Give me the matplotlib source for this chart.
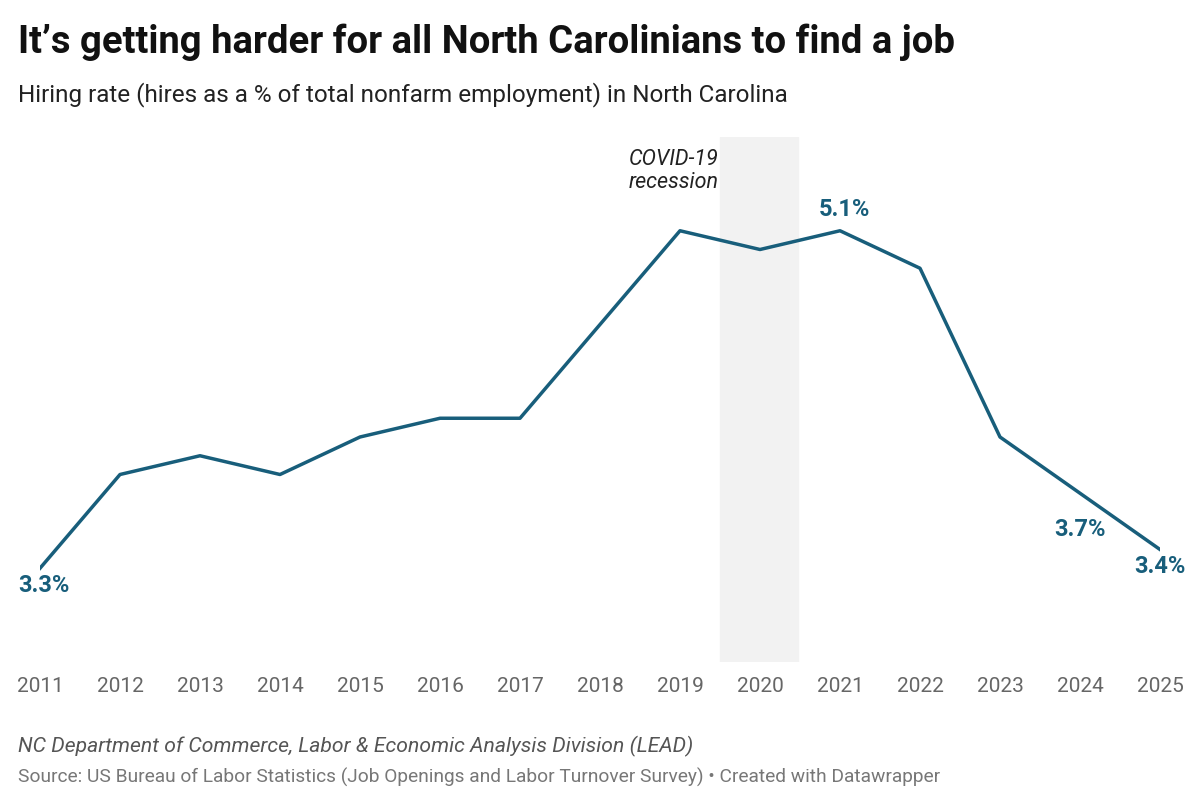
import matplotlib
matplotlib.use("Agg")
import matplotlib.pyplot as plt

years = list(range(2011, 2026))
rates = [3.3, 3.8, 3.9, 3.8, 4.0, 4.1, 4.1, 4.6, 5.1, 5.0, 5.1, 4.9, 4.0, 3.7, 3.4]
labels = {2011: "3.3%", 2021: "5.1%", 2024: "3.7%", 2025: "3.4%"}

plt.rcParams['font.family'] = ['Roboto', 'DejaVu Sans']
fig = plt.figure(figsize=(12, 8.07), dpi=100)
ax = fig.add_axes([40/1200, 145/807, 1120/1200, 525/807])
col = "#185e7b"
ax.axvspan(2019.5, 2020.47, color="#f2f2f2", zorder=0)
ax.plot(years, rates, color=col, lw=2.5, zorder=2)
ax.set_xlim(2011, 2025)
ax.set_ylim(2.8, 5.6)
for s in ax.spines.values():
    s.set_visible(False)
ax.set_yticks([])
ax.set_xticks(years)
ax.set_xticklabels([str(y) for y in years], fontsize=15, color="#666666")
ax.tick_params(axis='x', length=0, pad=11)
off = {2011: (0.05, -0.03, 'center', 'top'), 2021: (0.05, 0.05, 'center', 'bottom'),
       2024: (0.0, -0.13, 'center', 'top'), 2025: (0, -0.03, 'center', 'top')}
for y, t in labels.items():
    dx, dy, ha, va = off[y]
    v = rates[years.index(y)]
    ax.text(y + dx, v + dy, t, color=col, fontsize=17, fontweight='bold', ha=ha, va=va, clip_on=False)
ax.text(2019.48, 5.42, "COVID-19\nrecession", ha='right', va='center', fontsize=15.5,
        style='italic', color="#222222", linespacing=1.1)

fig.text(18/1200, 1-42/807, "It’s getting harder for all North Carolinians to find a job",
         fontsize=27.5, fontweight='bold', va='center', color="#111111")
fig.text(18/1200, 1-95/807, "Hiring rate (hires as a % of total nonfarm employment) in North Carolina",
         fontsize=17.5, va='center', color="#222222")
fig.text(18/1200, 1-746/807, "NC Department of Commerce, Labor & Economic Analysis Division (LEAD)",
         fontsize=15.2, style='italic', va='center', color="#555555")
fig.text(18/1200, 1-777/807, "Source: US Bureau of Labor Statistics (Job Openings and Labor Turnover Survey) • Created with Datawrapper",
         fontsize=13.8, va='center', color="#777777")
fig.savefig("out.png", dpi=100)
